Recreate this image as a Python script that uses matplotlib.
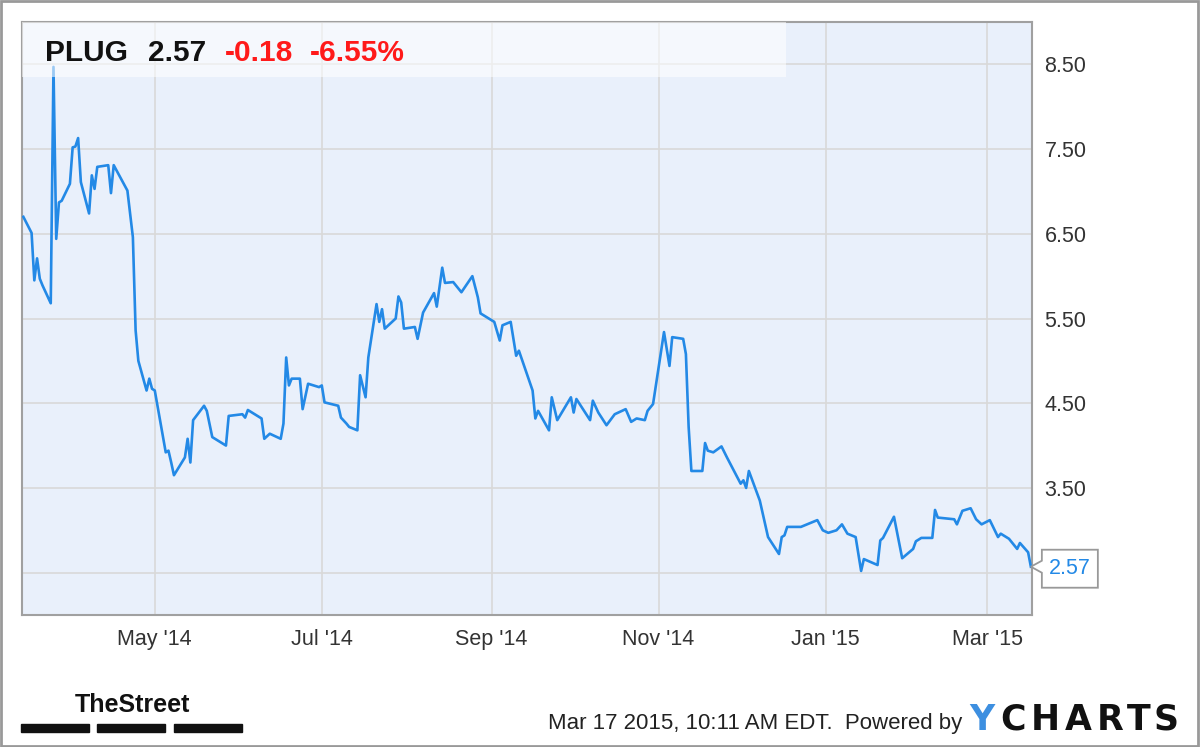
import matplotlib

matplotlib.use("Agg")
import matplotlib.pyplot as plt
import matplotlib.dates as mdates
import pandas as pd
from matplotlib.patches import Rectangle, Polygon
from matplotlib.transforms import Affine2D

# PLUG daily close, Mar 2014 - Mar 2015
dates_2014 = [
    "03-14", "03-17", "03-18", "03-19", "03-20", "03-21", "03-24", "03-25", "03-26", "03-27",
    "03-28", "03-31", "04-01", "04-02", "04-03", "04-04", "04-07", "04-08", "04-09", "04-10",
    "04-14", "04-15", "04-16", "04-21", "04-23", "04-24", "04-25", "04-28", "04-29", "04-30",
    "05-01", "05-05", "05-06", "05-07", "05-08", "05-12", "05-13", "05-14", "05-15", "05-19",
    "05-20", "05-22", "05-27", "05-28", "06-02", "06-03", "06-04", "06-09", "06-10", "06-12",
    "06-16", "06-17", "06-18", "06-19", "06-20", "06-23", "06-24", "06-26", "06-30", "07-01",
    "07-02", "07-07", "07-08", "07-10", "07-11", "07-14", "07-15", "07-17", "07-18", "07-21",
    "07-22", "07-23", "07-24", "07-28", "07-29", "07-30", "07-31", "08-04", "08-05", "08-07",
    "08-11", "08-12", "08-14", "08-15", "08-18", "08-21", "08-25", "08-27", "08-28", "09-02",
    "09-04", "09-05", "09-08", "09-10", "09-11", "09-16", "09-17", "09-18", "09-22", "09-23",
    "09-25", "09-30", "10-01", "10-02", "10-07", "10-08", "10-10", "10-13", "10-16", "10-20",
    "10-22", "10-24", "10-27", "10-28", "10-30", "11-03", "11-05", "11-06", "11-10", "11-11",
    "11-12", "11-13", "11-17", "11-18", "11-19", "11-21", "11-24", "11-26", "12-01", "12-02",
    "12-03", "12-04", "12-08", "12-11", "12-15", "12-16", "12-17", "12-18", "12-23", "12-29",
    "12-31",
]
close_2014 = [
    6.70, 6.51, 5.95, 6.21, 5.97, 5.89, 5.68, 8.47, 6.44, 6.87,
    6.89, 7.09, 7.52, 7.53, 7.63, 7.11, 6.74, 7.19, 7.03, 7.29,
    7.31, 6.98, 7.31, 7.01, 6.46, 5.36, 5.00, 4.65, 4.79, 4.67,
    4.65, 3.92, 3.94, 3.80, 3.65, 3.86, 4.08, 3.80, 4.30, 4.47,
    4.41, 4.10, 4.00, 4.35, 4.37, 4.33, 4.42, 4.32, 4.08, 4.14,
    4.08, 4.26, 5.04, 4.71, 4.79, 4.79, 4.43, 4.73, 4.69, 4.71,
    4.51, 4.47, 4.33, 4.26, 4.22, 4.18, 4.83, 4.57, 5.04, 5.67,
    5.46, 5.61, 5.38, 5.50, 5.76, 5.69, 5.38, 5.40, 5.26, 5.57,
    5.80, 5.64, 6.10, 5.92, 5.93, 5.81, 6.00, 5.75, 5.56, 5.46,
    5.24, 5.42, 5.46, 5.06, 5.12, 4.65, 4.32, 4.41, 4.18, 4.57,
    4.30, 4.57, 4.39, 4.55, 4.30, 4.53, 4.39, 4.24, 4.37, 4.43,
    4.28, 4.32, 4.30, 4.41, 4.49, 5.34, 4.94, 5.28, 5.26, 5.08,
    4.22, 3.70, 3.70, 4.03, 3.94, 3.92, 3.99, 3.86, 3.55, 3.59,
    3.50, 3.70, 3.35, 2.92, 2.72, 2.92, 2.94, 3.04, 3.04, 3.12,
    3.00,
]
dates_2015 = [
    "01-02", "01-05", "01-07", "01-09", "01-12", "01-14", "01-15", "01-20", "01-21", "01-22",
    "01-26", "01-29", "02-02", "02-03", "02-05", "02-09", "02-10", "02-11", "02-17", "02-18",
    "02-20", "02-23", "02-25", "02-27", "03-02", "03-05", "03-06", "03-09", "03-12", "03-13",
    "03-16", "03-17",
]
close_2015 = [
    2.97, 3.00, 3.07, 2.96, 2.92, 2.52, 2.66, 2.59, 2.88, 2.91,
    3.16, 2.67, 2.78, 2.87, 2.91, 2.91, 3.24, 3.15, 3.13, 3.07,
    3.23, 3.26, 3.13, 3.07, 3.12, 2.92, 2.96, 2.90, 2.78, 2.85,
    2.74, 2.57,
]

TICKER = "PLUG"
LAST = "2.57"
CHANGE = "-0.18"
CHANGE_PCT = "-6.55%"
STAMP = "Mar 17 2015, 10:11 AM EDT.  Powered by"
YTICKS = [2.5, 3.5, 4.5, 5.5, 6.5, 7.5, 8.5]

LINE = "#2389e6"
FACE = "#e9f0fb"
GRID = "#d9d9d9"
FRAME = "#a0a0a0"
TXT = "#333333"

dates = pd.to_datetime(["2014-" + d for d in dates_2014] + ["2015-" + d for d in dates_2015])
close = close_2014 + close_2015

W, H = 1200, 747
plt.rcParams["font.family"] = ["Liberation Sans", "DejaVu Sans"]
fig = plt.figure(figsize=(W / 100, H / 100), dpi=100)


def px(x, y):
    """pixel position (origin top-left) -> figure fraction"""
    return x / W, 1 - y / H


ax = fig.add_axes([22 / W, 1 - 615 / H, (1032 - 22) / W, (615 - 22) / H])
ax.set_facecolor(FACE)
ax.plot(dates, close, color=LINE, lw=1.9, solid_joinstyle="round", zorder=3)

ax.set_xlim(pd.Timestamp("2014-03-13 12:00"), pd.Timestamp("2015-03-17 10:00"))
ax.set_ylim(2, 9)
ax.xaxis.set_major_locator(mdates.MonthLocator(bymonth=[1, 3, 5, 7, 9, 11]))
ax.xaxis.set_major_formatter(mdates.DateFormatter("%b '%y"))
ax.set_yticks(YTICKS)
ax.set_yticklabels(["" if v < 3 else f"{v:.2f}" for v in YTICKS])
ax.yaxis.tick_right()
ax.tick_params(length=0, labelsize=15.5, labelcolor=TXT)
ax.tick_params(axis="y", pad=9)
ax.tick_params(axis="x", pad=10)
ax.grid(True, color=GRID, lw=1.2, zorder=1)
ax.set_axisbelow(True)
for s in ax.spines.values():
    s.set_color(FRAME)
    s.set_linewidth(1.5)

# header strip over the top of the plot
ax.add_patch(Rectangle((0, 0.907), 0.7565, 0.093, transform=ax.transAxes,
                       facecolor="white", alpha=0.55, edgecolor="none", zorder=4))
for x, s, c in [(45, TICKER, "#111111"), (148, LAST, "#111111"),
                (225, CHANGE, "#ff1a1a"), (310, CHANGE_PCT, "#ff1a1a")]:
    fig.text(*px(x, 61), s, color=c, fontsize=21.5, fontweight="bold", va="baseline")

# last-value callout
ax.figure.canvas.draw()
tip = ax.transData.transform((mdates.date2num(dates[-1]), close[-1]))
shape = [(0, 0), (11, 6), (11, 17), (67, 17), (67, -21), (11, -21), (11, -6)]
ax.add_patch(Polygon(shape, closed=True, facecolor="white", edgecolor="#999999", lw=1.3,
                     transform=Affine2D().translate(*tip), clip_on=False, zorder=5))
ax.annotate(LAST, xy=(dates[-1], close[-1]), xytext=(39, -2), textcoords="offset pixels",
            ha="center", va="center", fontsize=15.5, color=LINE, zorder=6)

# footer
fig.text(*px(75, 712), "TheStreet", fontsize=18, fontweight="bold", va="baseline",
         family=["Liberation Sans Narrow", "Liberation Sans"], color="#111111")
for x0, x1 in [(21, 89), (97, 165), (174, 242)]:
    fig.patches.append(Rectangle(px(x0, 732), (x1 - x0) / W, 8 / H,
                                 transform=fig.transFigure, color="#111111"))
fig.text(*px(548, 729), STAMP, fontsize=16, color="#222222", va="baseline")
logo = [("Y", 982, "#3d8fe0"), ("C", 1013, "#111111"), ("H", 1045, "#111111"),
        ("A", 1078, "#111111"), ("R", 1110, "#111111"), ("T", 1139, "#111111"),
        ("S", 1166, "#111111")]
for ch, cx, col in logo:
    fig.text(*px(cx, 730), ch, fontsize=25, fontweight="bold", color=col,
             ha="center", va="baseline", family=["DejaVu Sans"])

# outer frame
fig.patches.append(Rectangle((0.001, 0.002), 0.997, 0.996, transform=fig.transFigure,
                             fill=False, edgecolor="#999999", lw=2))

fig.savefig("out.png", dpi=100)
